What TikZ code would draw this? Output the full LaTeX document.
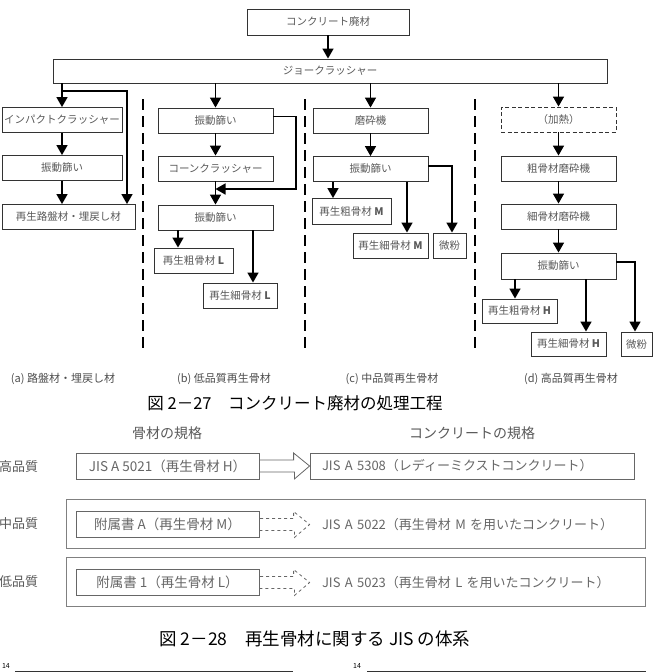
\documentclass[tikz,border=0pt]{standalone}
\usepackage{fontspec}
\setmainfont{Noto Sans CJK JP}
\usetikzlibrary{positioning}
\usetikzlibrary{calc}
\usetikzlibrary{arrows.meta}

\begin{document}
\begin{tikzpicture}
		[
			x = 1pt, y = -1pt,
			box/.style = {rectangle, draw = black!80, line width = 0.9pt, text = black!65, font = \fontsize{10.5}{12}\selectfont, minimum height = 25pt, inner sep = 0pt},
			heatbox/.style = {box, dash pattern = on 4pt off 2.5pt},
			flow/.style = {draw = black, line width = 1.6pt, -{Triangle[length = 10pt, width = 11pt]}},
			divider/.style = {draw = black, line width = 2.6pt, dash pattern = on 11pt off 6pt},
			caselabel/.style = {text = black!70, font = \fontsize{11}{13}\selectfont},
			figcap/.style = {text = black, font = \fontsize{16.5}{19}\selectfont},
			jisbox/.style = {rectangle, draw = black!60, line width = 0.8pt, text = black!60, font = \fontsize{13.5}{15}\selectfont, minimum width = 183pt, minimum height = 26pt, inner sep = 0pt},
			conc/.style = {jisbox, font = \fontsize{13}{15}\selectfont, minimum width = 324pt, text width = 300pt, inner xsep = 12pt, align = left},
			gradegroup/.style = {rectangle, draw = black!50, line width = 0.8pt, minimum width = 579pt, minimum height = 49pt},
			grade/.style = {text = black!65, font = \fontsize{13}{15}\selectfont, anchor = west, inner sep = 0pt},
			hollow/.style = {draw = black!60, line width = 0.8pt},
			chart/.style = {draw = black!80, line width = 0.8pt},
		]
			\useasboundingbox (0,0) rectangle (655,672);
			%
			% fig. 2-27
			\node (waste) [box, minimum width = 162pt, minimum height = 26pt] at (328,22) {コンクリート廃材};
			\node (jaw) [box, minimum width = 554pt, minimum height = 24pt] at (330,71) {ジョークラッシャー};
			\draw [flow] (waste.south) -- (waste.south |- jaw.north);
			%
			% (a)
			\node (impact) [box, minimum width = 120pt] at (62,120) {インパクトクラッシャー};
			\node (sieveA) [box, minimum width = 120pt] at (62,168) {振動篩い};
			\node (roadbed) [box, minimum width = 133pt] at (68.5,217) {再生路盤材・埋戻し材};
			\coordinate (bypass) at (127,91);
			\draw [flow] (jaw.south -| impact.north) -- (impact.north);
			\draw [flow] (impact.south) -- (sieveA.north);
			\draw [flow] (sieveA.south) -- (sieveA.south |- roadbed.north);
			\draw [flow] (impact.north |- bypass) -- (bypass) -- (bypass |- roadbed.north);
			%
			% (b)
			\node (sieveB1) [box, minimum width = 115pt] at (215.5,120.5) {振動篩い};
			\node (cone) [box, minimum width = 115pt] at (215.5,168.5) {コーンクラッシャー};
			\node (sieveB2) [box, minimum width = 115pt] at (215.5,217.5) {振動篩い};
			\node (coarseL) [box, minimum width = 79pt] at (193.5,260.5) {再生粗骨材 \textbf{L}};
			\node (fineL) [box, minimum width = 74pt] at (240,295.5) {再生細骨材 \textbf{L}};
			\coordinate (loopB) at (296,189);
			\draw [flow] (jaw.south -| sieveB1.north) -- (sieveB1.north);
			\draw [flow] (sieveB1.south) -- (cone.north);
			\draw [flow] (cone.south) -- (sieveB2.north);
			\draw [flow] ([yshift = 4pt]sieveB1.east) -| (loopB) -- (loopB -| cone.south);
			\draw [flow] (sieveB2.south -| 178,0) -- (coarseL.north -| 178,0);
			\draw [flow] (sieveB2.south -| 253,0) -- (fineL.north -| 253,0);
			%
			% (c)
			\node (grinder) [box, minimum width = 115pt] at (370.5,120.5) {磨砕機};
			\node (sieveC) [box, minimum width = 115pt] at (370.5,169) {振動篩い};
			\node (coarseM) [box, minimum width = 79pt, minimum height = 26pt] at (351.5,211.5) {再生粗骨材 \textbf{M}};
			\node (fineM) [box, minimum width = 75pt] at (390.5,245.5) {再生細骨材 \textbf{M}};
			\node (powderC) [box, minimum width = 33pt] at (449.5,245.5) {微粉};
			\coordinate (outC) at (452,166);
			\draw [flow] (jaw.south -| grinder.north) -- (grinder.north);
			\draw [flow] (grinder.south) -- (sieveC.north);
			\draw [flow] (sieveC.south -| 333,0) -- (coarseM.north -| 333,0);
			\draw [flow] (sieveC.south -| 407,0) -- (fineM.north -| 407,0);
			\draw [flow] (sieveC.east |- outC) -- (outC) -- (outC |- powderC.north);
			%
			% (d)
			\node (heat) [heatbox, minimum width = 115pt] at (558.5,119.5) {（加熱）};
			\node (coarseGrind) [box, minimum width = 115pt] at (558.5,168.5) {粗骨材磨砕機};
			\node (fineGrind) [box, minimum width = 115pt] at (558.5,216.5) {細骨材磨砕機};
			\node (sieveD) [box, minimum width = 115pt, minimum height = 26pt] at (558.5,266) {振動篩い};
			\node (coarseH) [box, minimum width = 75pt, minimum height = 24pt] at (519.5,311) {再生粗骨材 \textbf{H}};
			\node (fineH) [box, minimum width = 75pt, minimum height = 24pt] at (568.5,344) {再生細骨材 \textbf{H}};
			\node (powderD) [box, minimum width = 31pt, minimum height = 24pt] at (636.5,344) {微粉};
			\coordinate (outD) at (635,262);
			\draw [flow] (jaw.south -| heat.north) -- (heat.north);
			\draw [flow] (heat.south) -- (coarseGrind.north);
			\draw [flow] (coarseGrind.south) -- (fineGrind.north);
			\draw [flow] (fineGrind.south) -- (sieveD.north);
			\draw [flow] (sieveD.south -| 515,0) -- (coarseH.north -| 515,0);
			\draw [flow] (sieveD.south -| 586,0) -- (fineH.north -| 586,0);
			\draw [flow] (sieveD.east |- outD) -- (outD) -- (outD |- powderD.north);
			%
			\foreach \x in {143,305,475}
				\draw [divider] (\x,99) -- (\x,354);
			%
			\node (labelA) [caselabel] at (63,379) {(a)\ 路盤材・埋戻し材};
			\node (labelB) [caselabel] at (224,379) {(b)\ 低品質再生骨材};
			\node (labelC) [caselabel] at (392,379) {(c)\ 中品質再生骨材};
			\node (labelD) [caselabel] at (571,379) {(d)\ 高品質再生骨材};
			\node (capA) [figcap] at (295,403) {図 2－27　コンクリート廃材の処理工程};
			%
			% fig. 2-28
			\node (headAgg) [grade, anchor = center, font = \fontsize{14}{16}\selectfont] at (167,433) {骨材の規格};
			\node (headConc) [grade, anchor = center, font = \fontsize{14}{16}\selectfont] at (472,433) {コンクリートの規格};
			\node (groupM) [gradegroup] at (355.5,523.5) {};
			\node (groupL) [gradegroup] at (355.5,582) {};
			\node (gradeH) [grade] at (-1,467) {高品質};
			\node (gradeM) [grade] at (-1,524) {中品質};
			\node (gradeL) [grade] at (-1,582) {低品質};
			\node (jisH) [jisbox] at (167.5,466) {JIS A 5021（再生骨材 H）};
			\node (jisM) [jisbox] at (167.5,524.5) {附属書 A（再生骨材 M）};
			\node (jisL) [jisbox] at (167.5,582.5) {附属書 1（再生骨材 L）};
			\node (concH) [conc] at (472,466) {\mbox{JIS A 5308（レディーミクストコンクリート）}};
			\node (concM) [conc, draw = none] at (472,524.5) {\mbox{JIS A 5022（再生骨材 M を用いたコンクリート）}};
			\node (concL) [conc, draw = none] at (472,582.5) {\mbox{JIS A 5023（再生骨材 L を用いたコンクリート）}};
			\foreach \from/\to/\pat in {jisH/concH/solid, jisM/concM/dashed, jisL/concL/dashed}
				\draw [hollow, \pat] ($(\from.east)+(0,6)$) -- ++(35,0) -- ++(0,7) -- (\to.west) -- ++(-16,-13) -- ++(0,7) -- ($(\from.east)+(0,-6)$);
			\node (capB) [figcap, font = \fontsize{17.5}{20}\selectfont] at (315,639) {図 2－28　再生骨材に関する JIS の体系};
			%
			% charts below
			\node (topA) [font = \fontsize{7}{8}\selectfont, inner sep = 0pt] at (6,666) {14};
			\node (topB) [font = \fontsize{7}{8}\selectfont, inner sep = 0pt] at (357,666) {14};
			\draw [chart] (15,671) -- (292,671);
			\draw [chart] (367,671) -- (645,671);
			\foreach \x in {15,62,107,154,200,247,292,367,414,460,506,552,599,645}
				\draw [chart] (\x,671) -- (\x,680);
			%
		\end{tikzpicture}
\end{document}
